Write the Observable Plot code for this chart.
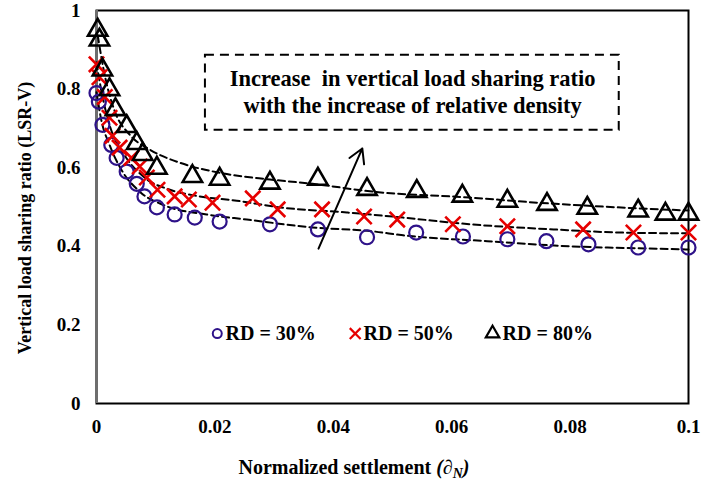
<!DOCTYPE html>
<html><head><meta charset="utf-8">
<script src="https://cdn.jsdelivr.net/npm/d3@7"></script>
<script src="https://cdn.jsdelivr.net/npm/@observablehq/plot@0.6"></script>
<style>body{margin:0;background:#fff}</style>
</head><body><div id="chart"></div>
<script>
// ---- data ----
const rd30x = [0,0.0004,0.001,0.0025,0.0034,0.0051,0.0068,0.0081,0.0102,0.0132,0.0166,0.0208,0.0293,0.0374,0.0457,0.054,0.0619,0.0694,0.076,0.0831,0.0915,0.1];
const rd30y = [0.790,0.768,0.709,0.658,0.625,0.590,0.559,0.527,0.499,0.481,0.473,0.463,0.456,0.443,0.423,0.435,0.425,0.418,0.413,0.405,0.397,0.397];
const rd50x = [0,0.0005,0.0014,0.0022,0.0027,0.0039,0.0059,0.0073,0.0085,0.0103,0.0132,0.0156,0.0196,0.0264,0.0306,0.0381,0.0452,0.0508,0.0602,0.0694,0.0822,0.0907,0.1];
const rd50y = [0.863,0.830,0.780,0.727,0.681,0.651,0.625,0.603,0.575,0.544,0.527,0.519,0.511,0.522,0.494,0.494,0.476,0.468,0.456,0.451,0.443,0.435,0.435];
const rd80x = [0.0002,0.0005,0.001,0.0022,0.0032,0.0051,0.0068,0.0078,0.0102,0.0162,0.0208,0.0293,0.0374,0.0457,0.0541,0.0618,0.0694,0.0761,0.0829,0.0915,0.0961,0.1];
const rd80y = [0.950,0.925,0.849,0.799,0.748,0.705,0.662,0.634,0.599,0.578,0.571,0.561,0.571,0.545,0.540,0.528,0.515,0.507,0.497,0.490,0.482,0.482];

// dashed trend curves
const fit30x = [0,0.0008,0.0022,0.0042,0.0073,0.0115,0.0186,0.0254,0.0365,0.0467,0.0518,0.066,0.08,0.0914,0.1];
const fit30y = [0.792,0.722,0.658,0.595,0.539,0.504,0.481,0.468,0.448,0.438,0.428,0.413,0.400,0.395,0.392];
const fit50x = [0,0.0008,0.0022,0.0047,0.0081,0.0124,0.0174,0.0237,0.031,0.0423,0.0518,0.0631,0.0772,0.0885,0.1];
const fit50y = [0.868,0.797,0.709,0.633,0.575,0.544,0.527,0.516,0.499,0.486,0.473,0.456,0.443,0.435,0.433];
const fit80x = [0.0002,0.0014,0.003,0.0056,0.009,0.014,0.0208,0.0293,0.0365,0.0467,0.0631,0.0745,0.0856,0.1];
const fit80y = [0.937,0.835,0.747,0.684,0.646,0.613,0.587,0.570,0.559,0.539,0.524,0.511,0.501,0.491];

const xTicks = [0,0.02,0.04,0.06,0.08,0.1];
const xTickLabels = ["0","0.02","0.04","0.06","0.08","0.1"];
const yTicks = [0,0.2,0.4,0.6,0.8,1];
const yTickLabels = ["0","0.2","0.4","0.6","0.8","1"];

const legendLabels = ["RD = 30%","RD = 50%","RD = 80%"];
const legendSymbols = ["circle","times","triangle"];
const legendMarkX = [0.0204,0.0437,0.0669];
const legendTextX = [0.0218,0.0451,0.0686];
const legendY = 0.178;

const noteLines = ["Increase  in vertical load sharing ratio","with the increase of relative density"];
const noteX = 0.0534;
const noteY = [0.826,0.757];
const noteBox = {x1:0.0184, x2:0.0883, y1:0.695, y2:0.886};
const arrowPts = {x1:0.0375, y1:0.394, x2:0.0449, y2:0.649};

const xTitle = "Normalized settlement ";
const yTitle = "Vertical load sharing ratio (LSR-V)";

// ---- build tables ----
const pts = (xs, ys) => xs.map((x,i)=>({x, y: ys[i]}));
const s30 = pts(rd30x, rd30y), s50 = pts(rd50x, rd50y), s80 = pts(rd80x, rd80y);
const f30 = pts(fit30x, fit30y), f50 = pts(fit50x, fit50y), f80 = pts(fit80x, fit80y);
const legend = legendLabels.map((t,i)=>({t, sym: legendSymbols[i], mx: legendMarkX[i], tx: legendTextX[i], y: legendY}));

const C30 = "#2e1289", C50 = "#e60000", C80 = "#000000";
const font = "'Liberation Serif', 'Times New Roman', serif";

const chart = Plot.plot({
  width: 702, height: 485,
  marginLeft: 96, marginRight: 14, marginTop: 10, marginBottom: 82,
  style: {fontFamily: font, fontSize: "19px", fontWeight: "bold", color: "#000", background: "#fff"},
  x: {domain: [0, 0.1], ticks: xTicks, tickFormat: (d,i) => xTickLabels[i], tickSize: 0, tickPadding: 16, label: null},
  y: {domain: [0, 1], ticks: yTicks, tickFormat: (d,i) => yTickLabels[i], tickSize: 0, tickPadding: 16, label: null},
  marks: [
    Plot.frame({stroke:"#000", strokeWidth:2}),
    Plot.ruleX([0], {stroke:"#6e6e6e", strokeWidth:3}),
    Plot.line(f30, {x:"x", y:"y", curve:"monotone-x", stroke:"#000", strokeWidth:2, strokeDasharray:"7,4"}),
    Plot.line(f50, {x:"x", y:"y", curve:"monotone-x", stroke:"#000", strokeWidth:2, strokeDasharray:"7,4"}),
    Plot.line(f80, {x:"x", y:"y", curve:"monotone-x", stroke:"#000", strokeWidth:2, strokeDasharray:"7,4"}),
    Plot.dot(s30, {x:"x", y:"y", symbol:"circle", r:7, stroke:C30, strokeWidth:2.2, fill:"none"}),
    Plot.dot(s50, {x:"x", y:"y", symbol:"times", r:7, stroke:C50, strokeWidth:2.6, fill:"none"}),
    Plot.dot(s80, {x:"x", y:"y", symbol:"triangle", r:7.2, stroke:C80, strokeWidth:2.6, fill:"none"}),
    Plot.rect([noteBox], {x1:"x1", x2:"x2", y1:"y1", y2:"y2", fill:"none", stroke:"#000", strokeWidth:2, strokeDasharray:"9,6"}),
    Plot.text(noteLines.map((t,i)=>({t, y: noteY[i]})), {x: () => noteX, y:"y", text:"t", fontSize:22.5, fontWeight:"bold", fill:"#000"}),
    Plot.arrow([arrowPts], {x1:"x1", y1:"y1", x2:"x2", y2:"y2", stroke:"#000", strokeWidth:2, headLength:12}),
    Plot.dot(legend.filter(d=>d.sym==="circle"), {x:"mx", y:"y", symbol:"circle", r:4.5, stroke:C30, strokeWidth:2, fill:"none"}),
    Plot.dot(legend.filter(d=>d.sym==="times"), {x:"mx", y:"y", symbol:"times", r:5, stroke:C50, strokeWidth:2.2, fill:"none"}),
    Plot.dot(legend.filter(d=>d.sym==="triangle"), {x:"mx", y:"y", symbol:"triangle", r:5, stroke:C80, strokeWidth:2.2, fill:"none"}),
    Plot.text(legend, {x:"tx", y:"y", text:"t", textAnchor:"start", fontSize:20, fontWeight:"bold", fill:"#000"})
  ]
});

document.getElementById("chart").appendChild(chart);

// axis titles (x title has italic ∂ with subscript N)
const svg = d3.select(chart);
const xt = svg.append("text")
  .attr("x", 354).attr("y", 474)
  .attr("text-anchor", "middle")
  .attr("font-family", font).attr("font-size", 20).attr("font-weight", "bold").attr("fill", "#000");
xt.append("tspan").text(xTitle);
xt.append("tspan").attr("font-style", "italic").text("(∂");
xt.append("tspan").attr("font-style", "italic").attr("font-size", 14).attr("dy", 4).text("N");
xt.append("tspan").attr("font-style", "italic").attr("dy", -4).text(")");

svg.append("text")
  .attr("transform", "translate(25,218) rotate(-90)")
  .attr("text-anchor", "middle").attr("dy", "0.35em")
  .attr("font-family", font).attr("font-size", 18).attr("font-weight", "bold").attr("fill", "#000")
  .text(yTitle);
</script>
</body></html>
